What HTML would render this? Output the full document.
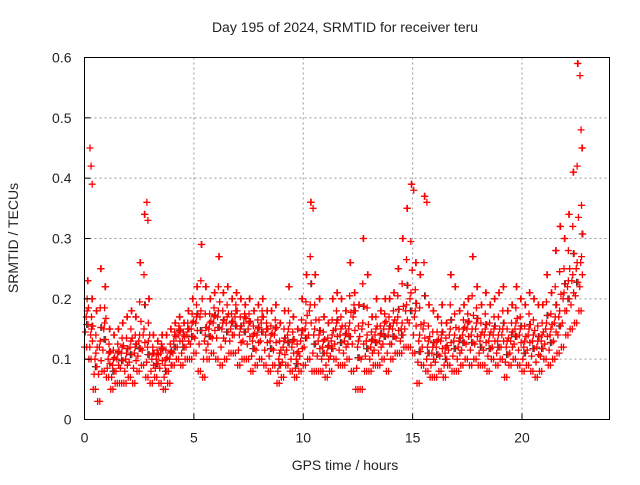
<!DOCTYPE html>
<html><head><meta charset="utf-8"><style>
body{margin:0;background:#fff;}
svg text{font-family:"Liberation Sans",sans-serif;font-size:14px;fill:#222;}
</style></head><body>
<svg id="chart" width="640" height="480">
<rect width="640" height="480" fill="#fff"/>
<g id="grid"></g>
<g id="marks"></g>
<rect x="84.5" y="57.5" width="525" height="362" fill="none" stroke="#000"/>
<g id="axes"></g>
<text x="345" y="32" text-anchor="middle">Day 195 of 2024, SRMTID for receiver teru</text>
<text x="345" y="470" text-anchor="middle">GPS time / hours</text>
<text transform="translate(18,238) rotate(-90)" text-anchor="middle">SRMTID / TECUs</text>
</svg>
<script>
const xTicks=[0,5,10,15,20];
const yTicks=[0,0.1,0.2,0.3,0.4,0.5,0.6];
const binStart=0, binStep=0.2;
const midVals=[.17,.14,.10,.12,.15,.10,.09,.10,.11,.10,.12,.11,.13,.14,.12,.10,.10,.11,.09,.10,.13,.14,.13,.14,.15,.16,.17,.13,.15,.16,.17,.15,.16,.15,.17,.14,.16,.15,.13,.14,.16,.14,.13,.14,.10,.12,.14,.12,.10,.13,.15,.18,.14,.13,.12,.11,.13,.15,.14,.13,.15,.17,.12,.15,.13,.12,.14,.13,.15,.14,.15,.16,.15,.18,.20,.17,.13,.15,.12,.11,.12,.13,.11,.14,.13,.12,.14,.15,.14,.15,.13,.14,.13,.14,.13,.14,.12,.13,.15,.14,.12,.14,.13,.12,.13,.15,.14,.16,.17,.20,.22,.23,.25,.26];
const lowVals=[.12,.10,.05,.03,.08,.07,.05,.06,.06,.06,.07,.06,.08,.09,.07,.06,.07,.06,.05,.06,.09,.10,.09,.10,.10,.11,.08,.07,.10,.11,.10,.09,.10,.11,.11,.09,.10,.10,.08,.09,.10,.09,.08,.09,.06,.07,.09,.08,.07,.08,.09,.10,.08,.08,.08,.07,.08,.10,.09,.09,.10,.08,.05,.05,.08,.08,.09,.09,.10,.08,.10,.11,.11,.12,.12,.11,.06,.09,.08,.07,.07,.08,.07,.09,.08,.08,.09,.10,.09,.10,.09,.09,.08,.10,.09,.10,.07,.09,.10,.09,.08,.09,.08,.07,.08,.10,.09,.10,.11,.12,.14,.15,.16,.18];
const highVals=[.23,.20,.18,.25,.22,.15,.14,.15,.16,.17,.18,.17,.26,.34,.20,.14,.13,.14,.14,.15,.16,.17,.16,.18,.20,.22,.29,.22,.20,.21,.27,.21,.22,.20,.21,.20,.19,.20,.18,.19,.20,.18,.18,.19,.16,.18,.22,.17,.15,.20,.24,.36,.24,.20,.17,.16,.20,.21,.20,.18,.26,.21,.19,.30,.24,.17,.20,.18,.20,.20,.21,.25,.30,.35,.39,.26,.24,.37,.19,.18,.17,.19,.16,.24,.22,.18,.19,.20,.27,.22,.19,.21,.19,.20,.21,.22,.18,.19,.22,.20,.19,.21,.20,.19,.19,.24,.21,.28,.32,.30,.34,.41,.59,.45];
const q1Vals=[.145,.12,.075,.075,.115,.085,.07,.08,.085,.08,.095,.085,.105,.115,.095,.08,.085,.085,.07,.08,.11,.12,.11,.12,.125,.135,.125,.10,.125,.135,.135,.12,.13,.13,.14,.115,.13,.125,.105,.115,.13,.115,.105,.115,.08,.095,.115,.10,.085,.105,.12,.14,.11,.105,.10,.09,.105,.125,.115,.11,.125,.125,.085,.10,.105,.10,.115,.11,.125,.11,.125,.135,.13,.15,.16,.14,.095,.12,.10,.09,.095,.105,.09,.115,.105,.10,.115,.125,.115,.125,.11,.115,.105,.12,.11,.12,.095,.11,.125,.115,.10,.115,.105,.095,.105,.125,.115,.13,.14,.16,.18,.19,.205,.22];
const q3Vals=[.20,.17,.14,.185,.185,.125,.115,.125,.135,.135,.15,.14,.195,.24,.16,.12,.115,.125,.115,.125,.145,.155,.145,.16,.175,.19,.23,.175,.175,.185,.22,.18,.19,.175,.19,.17,.175,.175,.155,.165,.18,.16,.155,.165,.13,.15,.18,.145,.125,.165,.195,.27,.19,.165,.145,.135,.165,.18,.17,.155,.205,.19,.155,.225,.185,.145,.17,.155,.175,.17,.18,.205,.225,.265,.295,.215,.185,.26,.155,.145,.145,.16,.135,.19,.175,.15,.165,.175,.205,.185,.16,.175,.16,.17,.17,.18,.15,.16,.185,.17,.155,.175,.165,.155,.16,.195,.175,.22,.245,.25,.28,.32,.42,.355];
const spikeTimes=[0.25,0.3,0.35,2.85,2.9,10.45,15.05,15.65,22.65,22.7];
const spikeVals=[.45,.42,.39,.36,.33,.35,.38,.36,.57,.48];
const X0=84.5,X1=609.5,Y0=419.5,Y1=57.5;
const xs=t=>X0+t/24*(X1-X0);
const ys=v=>Y0-v/0.6*(Y0-Y1);
const NS="http://www.w3.org/2000/svg";
const grid=document.getElementById('grid'),axes=document.getElementById('axes'),marks=document.getElementById('marks');
function mk(tag,attrs,parent){const e=document.createElementNS(NS,tag);for(const k in attrs)e.setAttribute(k,attrs[k]);parent.appendChild(e);return e;}
xTicks.forEach(t=>{
 const x=xs(t);
 if(t>0){const g=mk('line',{x1:x,x2:x,y1:Y1,y2:Y0,stroke:'#999','stroke-dasharray':'2,3'},grid);
 
 }
 mk('line',{x1:x,x2:x,y1:Y0,y2:Y0-6,stroke:'#000'},axes);
 const l=mk('text',{x:x,y:Y0+23,'text-anchor':'middle'},axes);l.textContent=t;
 
 
});
yTicks.forEach(v=>{
 const y=ys(v);
 if(v>0&&v<0.6){const g=mk('line',{x1:X0,x2:X1,y1:y,y2:y,stroke:'#999','stroke-dasharray':'2,3'},grid);
 
 }
 mk('line',{x1:X0,x2:X0+6,y1:y,y2:y,stroke:'#000'},axes);
 const l=mk('text',{x:X0-13,y:y+5,'text-anchor':'end'},axes);l.textContent=String(v);
 
 
});
function plus(t,v,color){
 const x=xs(t),y=ys(v);
 const p=mk('path',{d:`M${x-3.5},${y}h7M${x},${y-3.5}v7`,stroke:color,'stroke-width':1.3,fill:'none'},marks);
 
 
}
[q1Vals,q3Vals].forEach((arr,k)=>{
 arr.forEach((v,i)=>{if((i+k)%2===0)plus(binStart+i*binStep+0.1+k*0.05,(v+midVals[i])/2,'#333');});
});
[lowVals,q1Vals,midVals,q3Vals,highVals].forEach((arr,k)=>{
 arr.forEach((v,i)=>{
  plus(binStart+i*binStep+k*0.04,v,'#ff0000');
  plus(binStart+i*binStep+0.1+((k*3)%5)*0.02,(v+(k%2?midVals[i]:v))/2+(k===2?0.01:0),'#ff0000');
 });
});
spikeTimes.forEach((t,i)=>plus(t,spikeVals[i],'#ff0000'));
</script>
</body></html>
